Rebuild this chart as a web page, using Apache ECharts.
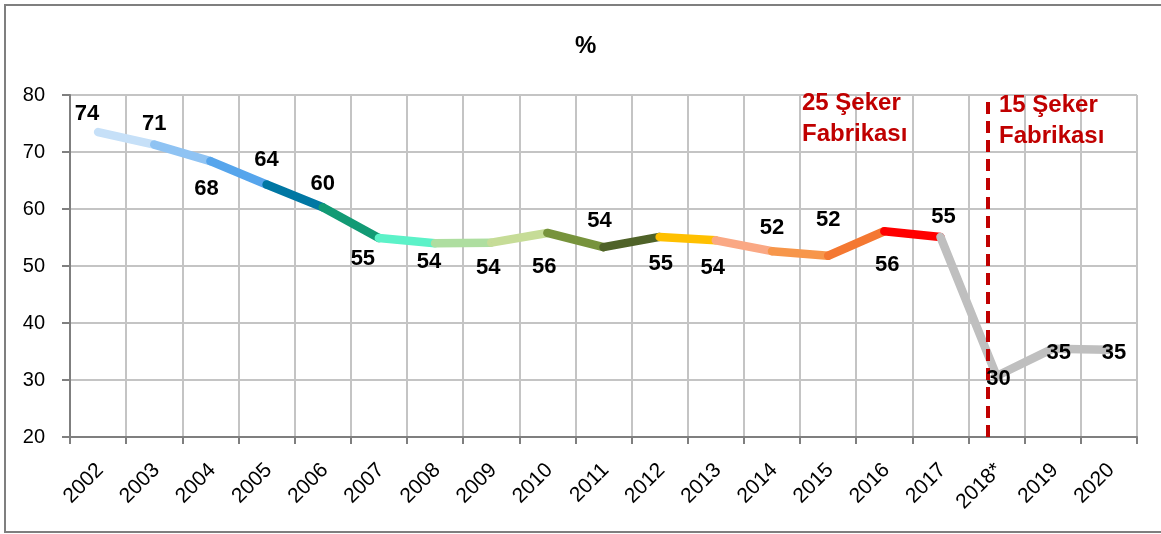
<!DOCTYPE html>
<html>
<head>
<meta charset="utf-8">
<script src="https://cdn.jsdelivr.net/npm/echarts@6/dist/echarts.min.js"></script>
<style>
  html, body { margin: 0; padding: 0; background: #fff; }
  #chart { width: 1161px; height: 534px; }
</style>
</head>
<body>
<div id="chart"></div>
<script>
// years on the x axis
var years = ['2002','2003','2004','2005','2006','2007','2008','2009','2010','2011',
             '2012','2013','2014','2015','2016','2017','2018*','2019','2020'];
// plotted values
var values = [73.5, 71.3, 68.4, 64.3, 60.3, 54.9, 54.0, 54.1, 55.8, 53.3,
              55.1, 54.5, 52.6, 51.8, 56.1, 55.1, 30.7, 35.5, 35.3];
// numbers printed next to the points
var shown = [74, 71, 68, 64, 60, 55, 54, 54, 56, 54, 55, 54, 52, 52, 56, 55, 30, 35, 35];
var yTicks = [20, 30, 40, 50, 60, 70, 80];

// one colour per segment (segment i goes from point i to point i+1)
var segColors = ['#C6E0F8','#8FC3F3','#56A5EC','#0077A3','#129A74','#5CF2C8','#AEDEA0','#C6DC97',
                 '#77933C','#4F6228','#FFC000','#FAA884','#F7964A','#F47832','#FF0000',
                 '#BFBFBF','#BFBFBF','#BFBFBF'];
// where each number sits relative to its point (px)
var labelOffsets = [[-11,-18],[0,-21],[-4,28],[0,-25],[0,-23],[-16,21],[-6,19],[-3,25],[-3,34],
                    [-4,-26],[1,27],[-3,28],[0,-23],[0,-36],[3,34],[3,-20],[2,3],[6,4],[5,3]];
// dashed divider, in category-boundary units (0 = left edge)
var dividerAt = 16.35;

var font = "'Liberation Sans', Arial, sans-serif";

var series = [];
for (let i = 0; i < values.length - 1; i++) {
  series.push({
    type: 'line',
    data: values.map(function (v, j) { return (j === i || j === i + 1) ? v : '-'; }),
    symbol: 'none',
    connectNulls: false,
    lineStyle: { color: segColors[i], width: 8.5, cap: 'round', join: 'round' },
    z: 3
  });
}

// labels
series.push({
  type: 'scatter',
  symbolSize: 0.1,
  itemStyle: { color: '#000' },
  data: values.map(function (v, j) {
    return {
      value: v,
      label: { offset: labelOffsets[j], formatter: String(shown[j]) }
    };
  }),
  label: {
    show: true, position: 'inside', opacity: 1,
    color: '#000', fontSize: 22, fontWeight: 'bold', fontFamily: font,
    textBorderWidth: 0
  },
  z: 6
});

// red dashed divider
series.push({
  type: 'line',
  xAxisIndex: 1,
  data: [],
  markLine: {
    silent: true,
    symbol: 'none',
    label: { show: false },
    lineStyle: { color: '#C00000', width: 4, type: [12, 7] },
    data: [{ xAxis: dividerAt }]
  },
  z: 4
});

var option = {
  animation: false,
  backgroundColor: '#fff',
  title: {
    text: '%', left: 570, top: 29,
    textStyle: { fontSize: 24, fontWeight: 'bold', color: '#000', fontFamily: font }
  },
  grid: { left: 70, right: 24, top: 95, bottom: 97 },
  xAxis: [{
    type: 'category',
    data: years,
    boundaryGap: true,
    axisLine: { lineStyle: { color: '#7F7F7F', width: 2 } },
    axisTick: { show: true, length: 7, lineStyle: { color: '#7F7F7F', width: 2 } },
    splitLine: { show: true, lineStyle: { color: '#C4C4C4', width: 2 } },
    axisLabel: {
      rotate: 45, margin: 32, interval: 0,
      padding: [0, -3, 0, 0],
      color: '#000', fontSize: 21, fontFamily: font
    }
  }, {
    type: 'value', min: 0, max: 19, show: false
  }],
  yAxis: {
    type: 'value', min: yTicks[0], max: yTicks[yTicks.length - 1], interval: 10,
    axisLine: { show: true, lineStyle: { color: '#7F7F7F', width: 2 } },
    axisTick: { show: true, length: 8, lineStyle: { color: '#7F7F7F', width: 2 } },
    splitLine: { show: true, lineStyle: { color: '#C4C4C4', width: 2 } },
    axisLabel: { margin: 25, color: '#000', fontSize: 20, fontFamily: font }
  },
  graphic: [
    {
      type: 'rect', z: 100, silent: true,
      shape: { x: 5, y: 5, width: 1170, height: 527 },
      style: { fill: 'none', stroke: '#7F7F7F', lineWidth: 2 }
    },
    {
      type: 'text', left: 802, top: 88, z: 100,
      style: { text: '25 Şeker\nFabrikası', fill: '#C00000', font: 'bold 24px ' + font, lineHeight: 31 }
    },
    {
      type: 'text', left: 999, top: 90, z: 100,
      style: { text: '15 Şeker\nFabrikası', fill: '#C00000', font: 'bold 24px ' + font, lineHeight: 31 }
    }
  ],
  series: series
};

var myChart = echarts.init(document.getElementById('chart'));
myChart.setOption(option);
</script>
</body>
</html>
